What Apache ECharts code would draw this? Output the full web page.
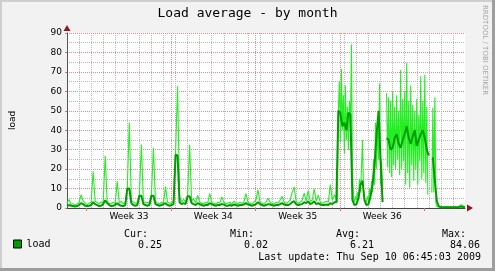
<!DOCTYPE html>
<html><head><meta charset="utf-8">
<script src="https://cdn.jsdelivr.net/npm/echarts@6/dist/echarts.min.js"></script>
<style>html,body{margin:0;padding:0;background:#f2f2f2}#c{width:495px;height:271px}</style>
</head><body><div id="c"></div>
<script>
// ---------------- data ----------------
const chartTitle = 'Load average - by month';
const yAxisName = 'load';
const seriesName = 'load';
const weekLabels = ['Week 33', 'Week 34', 'Week 35', 'Week 36'];
const weekStartDays = [0, 7, 14, 21, 28];      // Mondays (days since Mon Aug 10 2009)
const yMin = 0, yMax = 90, yStep = 10;
const axisMinDay = -1.63, axisMaxDay = 31.37;   // time span on the x axis (days)

// raw load (bright green), three sample blocks
const rawQuietStart = -1.63, rawQuietStep = 1 / 6;   // 4-hour samples
const rawQuiet = [
  2.5,4.3,1.8,2.2,1.5,2.0,2.8,6.8,3.7,2.5,
  1.8,2.5,3.0,18.8,3.5,2.8,2.0,3.2,2.5,26.9,
  3.0,2.5,2.0,3.0,2.2,13.7,2.5,3.5,2.0,2.8,
  10.5,44,4.0,3.0,2.5,2.5,7.0,32.7,3.5,2.5,
  3.0,2.2,7.0,31,3.5,2.5,2.0,3.0,2.5,11,
  3.0,2.5,2.5,3.5,28,62.6,6,3.0,4.5,3.0,
  6.5,32.5,3.5,4.8,2.5,6.5,3.0,2.5,2.2,3.0,
  2.5,7.4,3.0,2.5,2.0,3.0,2.5,5.7,3.0,2.2,
  2.5,3.0,2.0,3.5,2.5,2.2,3.0,2.5,3.0,7.4,
  3.0,2.5,2.0,3.0,4.0,9.4,3.0,2.5,2.0,3.0,
  5.0,3.0,2.5,2.0,3.0,2.5,4.0,6.0,3.0,2.5,
  3.0,4.0,8.0,10.8,3.5,2.5,3.0,4.0,7.7,3.5,
  9.0,3.5,4.0,9.9,3.5,6.6,3.0,2.5,3.0,3.5,
  3.0,12,4.0,6.8
];
const rawBusyStart = 20.7033, rawBusyStep = 1 / 12;   // 2-hour samples
const rawBusy = [
  5,3,50,65,34,71.5,40,58,28,63,
  35,52,30,55,40,84.06,20,5,3,6,
  4,8,5,15,8,20,35,10,4,2,
  3,6,3,10,5,14,8,25,12,44,
  20,44,25,64,12,24,5,null,null,null,
  59,21,57,18,55,16,60,22,52,20,
  58,25,50,17,71,20,56,24,60,12,
  74.6,18,55,10.4,63,22,53,14,50,20,
  56,12,48,24,67.7,15,55,18,68.5,13,
  52,6.8,null,null,null,8,51.5,8,57,3,
  0.8,0.6,0.5,0.7,0.5
];
const rawTailStart = 29.5367, rawTailStep = 1 / 6;    // 4-hour samples
const rawTail = [0.6,0.5,0.7,0.5,0.6,0.5,0.7,0.5,0.6,1.7,1.2,0.5];

// smoothed load (dark green), 4-hour samples
const trendStart = -1.63, trendStep = 1 / 6;
const loadTrend = [
  1.0,1.5,1.2,1.0,0.8,1.0,1.5,2.5,2.0,1.2,
  1.0,1.2,1.5,3.0,2.0,1.5,1.0,1.2,2.0,4.0,
  2.5,1.5,1.0,1.2,1.5,2.5,1.5,1.2,1.0,1.5,
  10,10,2.5,1.5,1.2,1.5,6.3,6.3,2.0,1.5,
  1.2,1.5,6.3,6.3,2.0,1.5,1.2,1.5,2.0,2.5,
  1.5,1.2,1.5,2.0,27.4,27,3.0,2.0,2.5,2.0,
  6,6,2.5,2.0,1.5,2.5,2.0,1.5,1.2,1.5,
  1.5,2.5,2.0,1.5,1.2,1.5,1.5,2.0,1.8,1.2,
  1.2,1.5,1.2,1.8,1.5,1.2,1.5,1.5,1.8,2.5,
  1.8,1.5,1.2,1.5,2.0,3.0,2.0,1.5,1.2,1.5,
  2.0,1.8,1.5,1.2,1.5,1.5,2.0,2.5,1.8,1.5,
  1.5,2.0,3.0,3.5,2.0,1.5,1.8,2.0,3.0,2.5,
  3.5,2.0,2.5,3.5,2.0,2.5,1.8,1.5,1.5,1.8,
  1.5,2.5,2.0,3.0,3.0,50,49,42,44,40,
  49,48,4,1.5,2,5,12,14,4,1.5,
  2,6,12,22,38,50,25,3,null,36,
  35,30,31,36,38,33,31,35,38,42,
  36,33,37,40,32,35,38,40,36,30,
  27,null,26,14,3.4,0.8,0.5,0.4,0.4,0.4,
  0.4,0.4,0.4,0.4,0.4,0.5,0.8,0.5,0.3
];
const statNames = ['Cur:', 'Min:', 'Avg:', 'Max:'];
const statValues = ['0.25', '0.02', '6.21', '84.06'];
const lastUpdate = 'Last update: Thu Sep 10 06:45:03 2009';
const sideNote = 'RRDTOOL / TOBI OETIKER';

// ---------------- chart ----------------
const chart = echarts.init(document.getElementById('c'), null, {renderer: 'canvas'});
const toPairs = (arr, start, step) => arr.map((v, i) => [start + i * step, v]);
const rawPairs = toPairs(rawQuiet, rawQuietStart, rawQuietStep)
  .concat(toPairs(rawBusy, rawBusyStart, rawBusyStep))
  .concat(toPairs(rawTail, rawTailStart, rawTailStep));
const trendPairs = toPairs(loadTrend, trendStart, trendStep);

const majorCol = '#e58c8c', minorCol = '#b8b8b8';
const dash = [1, 1];
const mono = '"DejaVu Sans Mono", monospace';

const statNameX = [148, 254, 360, 466];
const statValX = [162, 268, 374, 480];
const graphic = [
  {type: 'rect', shape: {x: 0, y: 0, width: 495, height: 2}, style: {fill: '#cfcfcf'}},
  {type: 'rect', shape: {x: 0, y: 0, width: 2, height: 271}, style: {fill: '#cfcfcf'}},
  {type: 'rect', shape: {x: 492, y: 0, width: 3, height: 271}, style: {fill: '#9e9e9e'}},
  {type: 'rect', shape: {x: 0, y: 268, width: 495, height: 3}, style: {fill: '#9e9e9e'}},
  {type: 'text', x: 484.5, y: 5, rotation: -Math.PI / 2,
   style: {text: sideNote, font: '7px "DejaVu Sans"', fill: '#a5a5a5', align: 'left', verticalAlign: 'middle'}},
  {type: 'text', x: 481, y: 257.5,
   style: {text: lastUpdate, font: '10px ' + mono, fill: '#000', align: 'right', verticalAlign: 'middle'}}
];
statNames.forEach((n, k) => {
  graphic.push({type: 'text', x: statNameX[k], y: 234,
    style: {text: n, font: '10px ' + mono, fill: '#000', align: 'right', verticalAlign: 'middle'}});
  graphic.push({type: 'text', x: statValX[k], y: 245.5,
    style: {text: statValues[k], font: '10px ' + mono, fill: '#000', align: 'right', verticalAlign: 'middle'}});
});

const option = {
  animation: false,
  backgroundColor: '#f2f2f2',
  textStyle: {fontFamily: '"DejaVu Sans", sans-serif'},
  title: {text: chartTitle, left: 'center', top: 7, padding: 0,
    textStyle: {fontFamily: mono, fontSize: 13, fontWeight: 'normal', color: '#000'}},
  legend: {data: [seriesName], left: 13, top: 239, padding: 0, icon: 'rect', itemWidth: 8, itemHeight: 8,
    itemStyle: {borderColor: '#000', borderWidth: 1},
    textStyle: {fontFamily: mono, fontSize: 10, color: '#000'}},
  grid: {left: 65, top: 33, right: 30, bottom: 63, show: true, backgroundColor: '#fff', borderWidth: 0},
  xAxis: [
    {type: 'value', position: 'bottom', min: axisMinDay, max: axisMaxDay, interval: 1,
      axisLine: {show: true, onZero: false, lineStyle: {color: '#444', width: 1}},
      axisTick: {show: false}, axisLabel: {show: false},
      splitLine: {show: true, showMinLine: false, showMaxLine: false, lineStyle: {color: minorCol, type: dash}}},
    {type: 'value', position: 'bottom', min: axisMinDay, max: axisMaxDay, interval: 7,
      axisLine: {show: true, onZero: false, symbol: ['none', 'triangle'], symbolSize: [7, 6], symbolOffset: [0, 5],
        lineStyle: {color: '#8b1a1a', width: 0}},
      axisTick: {show: true, customValues: weekStartDays, length: 3, lineStyle: {color: '#e07070'}},
      axisLabel: {show: true, customValues: weekStartDays.slice(0, weekLabels.length).map(d => d + 3.5),
        formatter: v => weekLabels[Math.round((v - 3.5) / 7)] || '', fontSize: 9, color: '#000', margin: 4},
      splitLine: {show: true, showMinLine: false, showMaxLine: false, lineStyle: {color: majorCol, type: dash}}}
  ],
  yAxis: [
    {type: 'value', position: 'left', min: yMin, max: yMax, interval: yStep,
      name: yAxisName, nameLocation: 'middle', nameGap: 50, nameRotate: 90,
      nameTextStyle: {fontSize: 9, color: '#000'},
      axisLine: {show: true, onZero: false, lineStyle: {color: '#555'}},
      axisTick: {show: true, length: 2, lineStyle: {color: '#e07070'}},
      axisLabel: {fontSize: 9, color: '#000', margin: 5},
      splitLine: {show: true, lineStyle: {color: majorCol, type: dash}},
      minorTick: {show: false, splitNumber: 2},
      minorSplitLine: {show: true, lineStyle: {color: minorCol, type: dash}}},
    {type: 'value', position: 'left', min: yMin, max: yMax, interval: yStep,
      axisLine: {show: true, onZero: false, symbol: ['none', 'triangle'], symbolSize: [7, 6], symbolOffset: [0, 5],
        lineStyle: {color: '#8b1a1a', width: 0}},
      axisTick: {show: false}, axisLabel: {show: false}, splitLine: {show: false}}
  ],
  series: [
    {name: 'raw', type: 'line', xAxisIndex: 0, yAxisIndex: 0, data: rawPairs,
      symbol: 'none', showSymbol: false, connectNulls: false,
      lineStyle: {color: '#22ee22', width: 1.1}, itemStyle: {color: '#22ee22'}, z: 2},
    {name: seriesName, type: 'line', xAxisIndex: 0, yAxisIndex: 0, data: trendPairs,
      symbol: 'none', showSymbol: false, connectNulls: false,
      lineStyle: {color: '#009c00', width: 2}, itemStyle: {color: '#009c00'}, z: 3}
  ],
  graphic: graphic
};
chart.setOption(option);
</script></body></html>
